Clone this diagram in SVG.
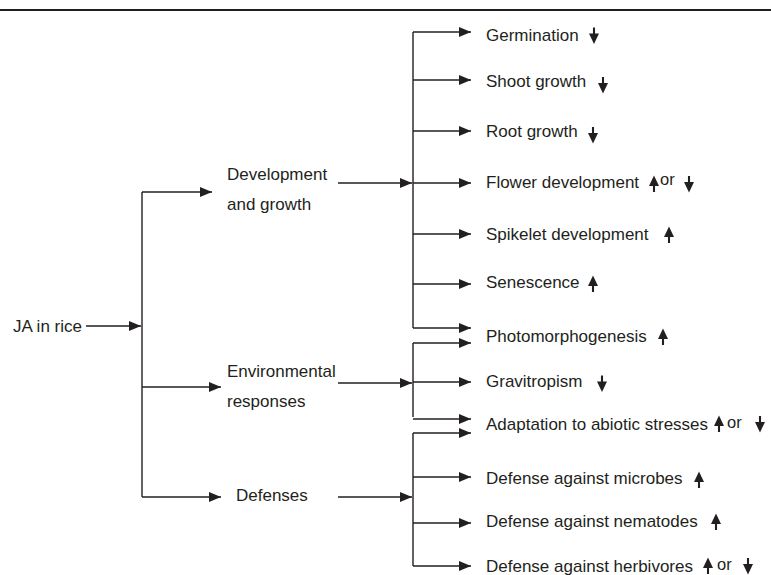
<svg xmlns="http://www.w3.org/2000/svg" xmlns:xlink="http://www.w3.org/1999/xlink" width="771" height="575" viewBox="0 0 771 575">
<style>
text{font-family:"Liberation Sans",Arial,sans-serif;font-size:17px;fill:#231f20}
.or{font-size:16.5px}
.ln{fill:none;stroke:#231f20;stroke-width:1.4}
.ar{marker-end:url(#ah)}
.ind{fill:#231f20;stroke:none}
.stem{stroke:#231f20;stroke-width:2.1}
</style>
<defs>
<marker id="ah" markerUnits="userSpaceOnUse" markerWidth="12" markerHeight="10" refX="12" refY="5" orient="auto" viewBox="0 0 12 10">
<path d="M0,0 L12,5 L0,10 Z" fill="#231f20"/>
</marker>
<g id="up"><path class="ind" d="M0,-8.5 L5,2 L-5,2 Z"/><line class="stem" x1="0" y1="0" x2="0" y2="8"/></g>
<g id="dn"><path class="ind" d="M0,8.5 L5,-2 L-5,-2 Z"/><line class="stem" x1="0" y1="0" x2="0" y2="-8"/></g>
</defs>
<rect width="771" height="575" fill="#fff"/>
<line x1="0" y1="10" x2="771" y2="10" stroke="#231f20" stroke-width="1.8"/>

<g id="connectors">
<path class="ln ar" d="M86,326 H141"/>
<path class="ln" d="M142,192 V497"/>
<path class="ln ar" d="M142,192 H212"/>
<path class="ln ar" d="M142,387 H221"/>
<path class="ln ar" d="M142,497 H221"/>
<path class="ln ar" d="M338,183 H412"/>
<path class="ln ar" d="M338,383 H412"/>
<path class="ln ar" d="M338,497 H412"/>
<path class="ln" d="M413,32 V328"/>
<path class="ln ar" d="M413,32 H471"/>
<path class="ln ar" d="M413,80 H471"/>
<path class="ln ar" d="M413,131 H471"/>
<path class="ln ar" d="M413,183 H471"/>
<path class="ln ar" d="M413,234 H471"/>
<path class="ln ar" d="M413,284 H471"/>
<path class="ln ar" d="M413,328 H471"/>
<path class="ln" d="M413,343 V417"/>
<path class="ln ar" d="M413,343 H471"/>
<path class="ln ar" d="M413,382 H471"/>
<path class="ln ar" d="M413,419 H471"/>
<path class="ln" d="M413,433 V566"/>
<path class="ln ar" d="M413,433 H471"/>
<path class="ln ar" d="M413,477 H471"/>
<path class="ln ar" d="M413,523 H471"/>
<path class="ln ar" d="M413,566 H471"/>
</g>

<g id="ja"><text x="13" y="332">JA in rice</text></g>
<g id="dev"><text x="227" y="180">Development</text><text x="227" y="210">and growth</text></g>
<g id="env"><text x="227" y="377">Environmental</text><text x="227" y="407">responses</text></g>
<g id="def"><text x="236" y="501">Defenses</text></g>

<g id="germination"><text x="486" y="41">Germination</text><use xlink:href="#dn" x="594" y="35.5"/></g>
<g id="shoot"><text x="486" y="87">Shoot growth</text><use xlink:href="#dn" x="603" y="85"/></g>
<g id="root"><text x="486" y="137">Root growth</text><use xlink:href="#dn" x="593" y="135"/></g>
<g id="flower"><text x="486" y="188">Flower development</text><use xlink:href="#up" x="654" y="184"/><text class="or" x="660" y="185">or</text><use xlink:href="#dn" x="689" y="184"/></g>
<g id="spikelet"><text x="486" y="240">Spikelet development</text><use xlink:href="#up" x="669" y="235"/></g>
<g id="senescence"><text x="486" y="288">Senescence</text><use xlink:href="#up" x="593" y="284"/></g>
<g id="photo"><text x="486" y="342">Photomorphogenesis</text><use xlink:href="#up" x="663" y="337"/></g>
<g id="gravi"><text x="486" y="387">Gravitropism</text><use xlink:href="#dn" x="602" y="383.5"/></g>
<g id="abiotic"><text x="486" y="430">Adaptation to abiotic stresses</text><use xlink:href="#up" x="719" y="424"/><text class="or" x="727" y="428">or</text><use xlink:href="#dn" x="760" y="424"/></g>
<g id="microbes"><text x="486" y="484">Defense against microbes</text><use xlink:href="#up" x="699" y="480"/></g>
<g id="nematodes"><text x="486" y="527">Defense against nematodes</text><use xlink:href="#up" x="716" y="522"/></g>
<g id="herbivores"><text x="486" y="572">Defense against herbivores</text><use xlink:href="#up" x="708" y="566"/><text class="or" x="717" y="570">or</text><use xlink:href="#dn" x="748" y="566"/></g>
</svg>
